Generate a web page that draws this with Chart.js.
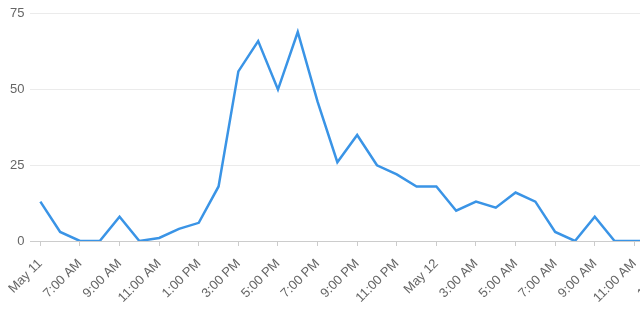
<!DOCTYPE html>
<html>
<head>
<meta charset="utf-8">
<script src="https://cdn.jsdelivr.net/npm/chart.js@4"></script>
<style>
  html, body { margin: 0; padding: 0; overflow: hidden; background: #fff; }
  #wrap { width: 695px; height: 313px; }
</style>
</head>
<body>
<div id="wrap"><canvas id="myChart"></canvas></div>
<script>
// hourly points, first one is 5:00 AM on May 11
const hours = [
  'May 11', '6:00 AM', '7:00 AM', '8:00 AM', '9:00 AM', '10:00 AM', '11:00 AM',
  '12:00 PM', '1:00 PM', '2:00 PM', '3:00 PM', '4:00 PM', '5:00 PM', '6:00 PM',
  '7:00 PM', '8:00 PM', '9:00 PM', '10:00 PM', '11:00 PM', '12:00 AM', 'May 12',
  '2:00 AM', '3:00 AM', '4:00 AM', '5:00 AM', '6:00 AM', '7:00 AM', '8:00 AM',
  '9:00 AM', '10:00 AM', '11:00 AM', '12:00 PM', '1:00 PM'
];
const counts = [
  13, 3, 0, 0, 8, 0, 1, 4, 6, 18,
  56, 66, 50, 69, 46, 26, 35, 25, 22, 18,
  18, 10, 13, 11, 16, 13, 3, 0, 8, 0,
  0, 0, 0
];
const yTicks = [0, 25, 50, 75];

const data = {
  labels: hours,
  datasets: [{
    data: counts,
    borderColor: '#3a94e6',
    backgroundColor: '#3a94e6',
    borderWidth: 2.5,
    pointRadius: 0,
    tension: 0,
    fill: false
  }]
};

const config = {
  type: 'line',
  data: data,
  options: {
    responsive: true,
    maintainAspectRatio: false,
    animation: false,
    layout: { padding: { top: 9, left: 4, right: 0, bottom: 4 } },
    plugins: {
      legend: { display: false },
      tooltip: { enabled: false }
    },
    scales: {
      x: {
        type: 'category',
        offset: true,
        // fixed height so the axis line lands where the reference has it
        afterFit: function (scale) { scale.height = 68; },
        grid: {
          drawOnChartArea: false,
          drawTicks: true,
          tickLength: 5,
          color: '#cccccc'
        },
        border: { color: '#cccccc' },
        ticks: {
          autoSkip: false,
          minRotation: 45,
          maxRotation: 45,
          padding: 10,
          color: '#666',
          font: { family: 'Liberation Sans, Arial', size: 13 },
          callback: function (val, i) {
            // only every other hour gets a label + tick mark
            return i % 2 === 0 ? hours[i] : null;
          }
        }
      },
      y: {
        min: 0,
        max: 75,
        afterBuildTicks: function (axis) {
          axis.ticks = yTicks.map(v => ({ value: v }));
        },
        grid: { color: '#ebebeb', drawTicks: false },
        border: { display: false },
        ticks: {
          padding: 6,
          color: '#666',
          font: { family: 'Liberation Sans, Arial', size: 13 }
        }
      }
    }
  }
};

var myChart = new Chart(
  document.getElementById('myChart'),
  config
);
</script>
</body>
</html>
